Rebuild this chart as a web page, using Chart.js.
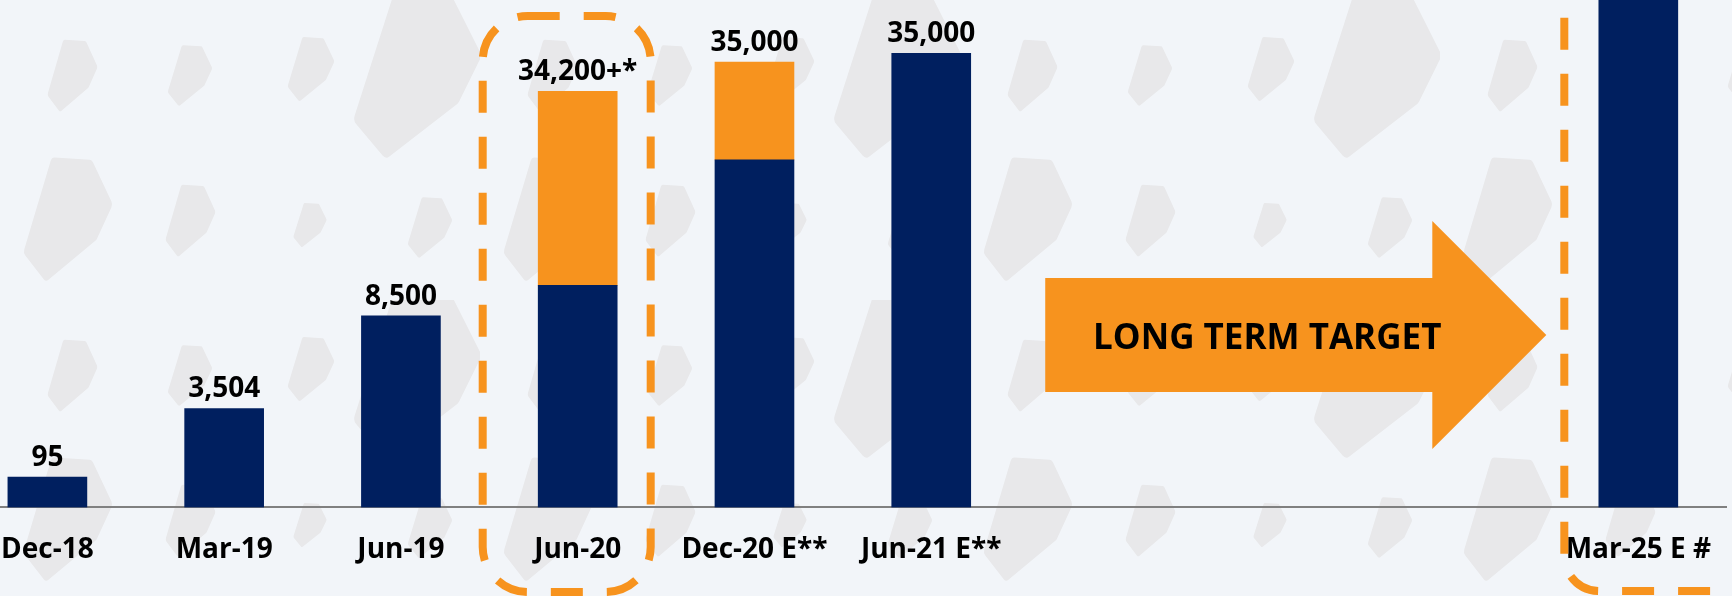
<!DOCTYPE html>
<html>
<head>
<meta charset="utf-8">
<script src="https://cdn.jsdelivr.net/npm/chart.js@4.4.0/dist/chart.umd.min.js"></script>
<style>
  html, body { margin: 0; padding: 0; width: 1732px; height: 596px; overflow: hidden; }
  body {
    background-color: #f2f5f9;
    background-image: url("data:image/svg+xml;utf8,<svg xmlns='http://www.w3.org/2000/svg' width='480' height='300'><defs><path id='b' d='M33 0 L77 2 L100 37 L82 65 L23 100 L0 79 Z' fill='%23e8e8ea' stroke='%23e8e8ea' stroke-width='10' stroke-linejoin='round'/></defs><use href='%23b' transform='translate(50 43) scale(.45 .65)'/><use href='%23b' transform='translate(170 48) scale(.4 .55)'/><use href='%23b' transform='translate(290 40) scale(.42 .58)'/><use href='%23b' transform='translate(360 0) scale(1.15 1.5)'/><use href='%23b' transform='translate(28 163) scale(.8 1.12)'/><use href='%23b' transform='translate(168 188) scale(.45 .65)'/><use href='%23b' transform='translate(295 205) scale(.3 .4)'/><use href='%23b' transform='translate(410 200) scale(.4 .55)'/></svg>");
  }
  #wrap { position: absolute; left: -41px; top: 0; width: 1778px; height: 596px; }
</style>
</head>
<body>
<div id="wrap"><canvas id="subsChart"></canvas></div>
<script>
// categories - the three blank slots hold the "long term target" arrow
const categories = ['Dec-18', 'Mar-19', 'Jun-19', 'Jun-20', 'Dec-20 E**', 'Jun-21 E**', '', '', '', 'Mar-25 E #'];
// bar heights as drawn on the slide (the slide is not drawn to scale)
const navyValues = [2400, 7800, 15100, 17500, 27400, 35800, null, null, null, 48000];
const orangeValues = [null, null, null, 15300, 7700, null, null, null, null, null];
// printed value labels
const valueLabels = ['95', '3,504', '8,500', '34,200+*', '35,000', '35,000', '', '', '', ''];
const arrowText = 'LONG TERM TARGET';

const NAVY = '#001f5f';
const ORANGE = '#f7931e';
const FONT = "'Open Sans', sans-serif";

// labels, dashed boxes and the arrow
const overlay = {
    id: 'overlay',
    afterDatasetsDraw(chart) {
        const ctx = chart.ctx;
        const x = chart.scales.x;
        ctx.save();

        // value labels above each stack
        ctx.font = 'bold 28px ' + FONT;
        ctx.fillStyle = '#000';
        ctx.textAlign = 'center';
        ctx.textBaseline = 'alphabetic';
        valueLabels.forEach((txt, i) => {
            if (!txt) return;
            let top = null;
            chart.data.datasets.forEach((ds, d) => {
                const el = chart.getDatasetMeta(d).data[i];
                if (ds.data[i] && el) top = top === null ? el.y : Math.min(top, el.y);
            });
            ctx.fillText(txt, x.getPixelForValue(i), top - 11);
        });

        // dashed boxes
        ctx.strokeStyle = ORANGE;
        ctx.lineWidth = 8;
        ctx.setLineDash([32, 24]);
        const c3 = x.getPixelForValue(3);
        ctx.beginPath();
        ctx.roundRect(c3 - 95, 16, 168, 576, 45);
        ctx.stroke();
        const c9 = x.getPixelForValue(9);
        ctx.beginPath();
        ctx.roundRect(c9 - 74, -80, 330, 671, 35);
        ctx.stroke();
        ctx.setLineDash([]);

        // arrow
        const left = x.getPixelForValue(5) + 114;
        const tip = c9 - 92;
        const base = tip - 114;
        const cy = 335;
        ctx.fillStyle = ORANGE;
        ctx.beginPath();
        ctx.moveTo(left, cy - 57);
        ctx.lineTo(base, cy - 57);
        ctx.lineTo(base, cy - 114);
        ctx.lineTo(tip, cy);
        ctx.lineTo(base, cy + 114);
        ctx.lineTo(base, cy + 57);
        ctx.lineTo(left, cy + 57);
        ctx.closePath();
        ctx.fill();
        ctx.fillStyle = '#000';
        ctx.font = 'bold 35px ' + FONT;
        ctx.fillText(arrowText, left + 222, cy + 14);

        ctx.restore();
    }
};

new Chart(document.getElementById('subsChart'), {
    type: 'bar',
    data: {
        labels: categories,
        datasets: [
            { data: navyValues, backgroundColor: NAVY, barThickness: 79, borderWidth: 0 },
            { data: orangeValues, backgroundColor: ORANGE, barThickness: 79, borderWidth: 0 }
        ]
    },
    options: {
        responsive: true,
        maintainAspectRatio: false,
        animation: false,
        layout: { padding: { top: 0, bottom: 3, left: 0, right: 0 } },
        plugins: { legend: { display: false }, tooltip: { enabled: false } },
        scales: {
            x: {
                stacked: true,
                offset: true,
                grid: { display: false, drawTicks: false },
                border: { display: true, color: '#808080', width: 2 },
                ticks: {
                    autoSkip: false,
                    maxRotation: 0,
                    padding: 26,
                    color: '#000',
                    font: { family: FONT, size: 28, weight: 'bold' }
                }
            },
            y: { stacked: true, display: false, min: 0, max: 40000 }
        }
    },
    plugins: [overlay]
});
</script>
</body>
</html>
